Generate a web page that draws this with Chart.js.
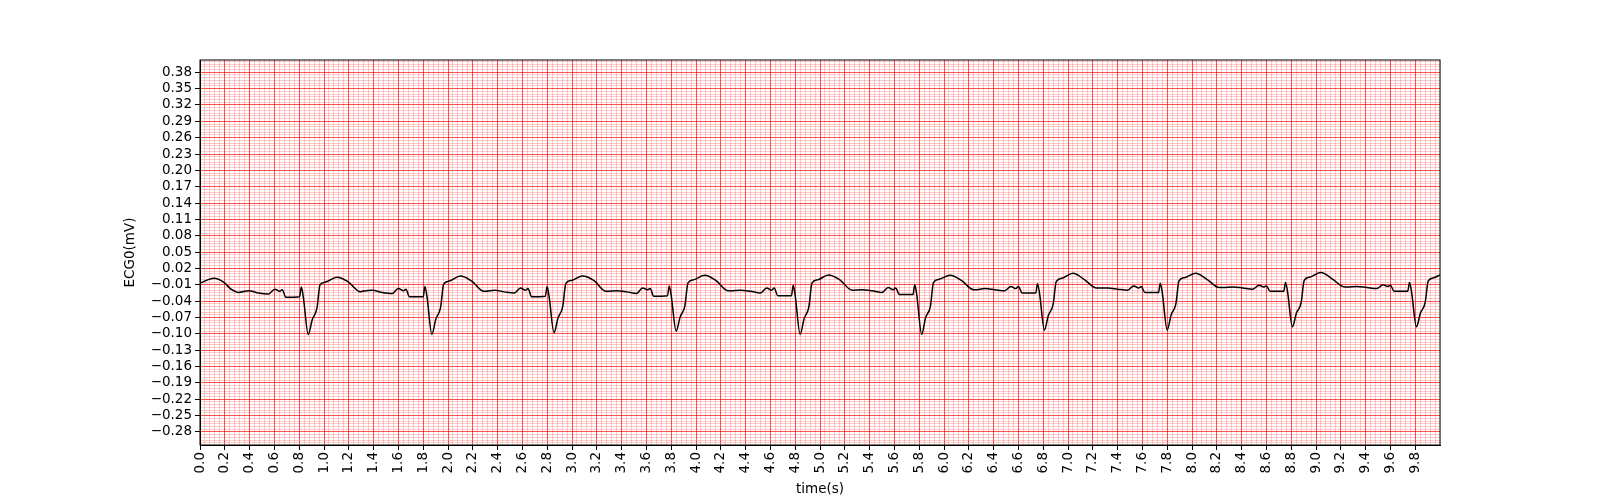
<!DOCTYPE html>
<html>
<head>
<meta charset="utf-8">
<script src="https://cdn.jsdelivr.net/npm/chart.js@4/dist/chart.umd.min.js"></script>
<style>
  body { margin: 0; background: #fff; }
  #wrap { width: 1600px; height: 500px; }
</style>
</head>
<body>
<div id="wrap"><canvas id="ecgChart"></canvas></div>
<script>
// readings of the trace: start of record, then one row per beat around its R dip
var headTimes = [0.0, 0.113, 0.19, 0.25];
var headValues = [-0.007, 0.002, -0.005, -0.018];

var beatDips = [0.873, 1.87, 2.855, 3.84, 4.84, 5.82, 6.81, 7.80, 8.81, 9.81];
var beatOffsets = [-0.56, -0.48, -0.40, -0.32, -0.27, -0.23, -0.21, -0.18, -0.07, -0.056, -0.04, 0, 0.032, 0.07, 0.095, 0.14, 0.23, 0.32, 0.42];
var beatValues = [
  [-0.024,-0.021,-0.025,-0.027,-0.018,-0.022,-0.019,-0.033,-0.032,-0.014,-0.032,-0.101,-0.074,-0.053,-0.010,-0.005,0.004,-0.004,-0.023],
  [-0.022,-0.020,-0.024,-0.026,-0.017,-0.021,-0.018,-0.032,-0.032,-0.013,-0.031,-0.101,-0.073,-0.052,-0.009,-0.003,0.006,-0.003,-0.022],
  [-0.022,-0.020,-0.023,-0.025,-0.016,-0.020,-0.017,-0.032,-0.031,-0.013,-0.031,-0.098,-0.071,-0.050,-0.008,-0.002,0.006,-0.002,-0.022],
  [-0.022,-0.021,-0.023,-0.026,-0.016,-0.019,-0.017,-0.031,-0.030,-0.012,-0.030,-0.095,-0.069,-0.049,-0.007,-0.001,0.0075,-0.002,-0.021],
  [-0.021,-0.020,-0.022,-0.025,-0.016,-0.020,-0.016,-0.030,-0.030,-0.011,-0.030,-0.101,-0.072,-0.051,-0.007,-0.001,0.008,-0.001,-0.020],
  [-0.020,-0.019,-0.021,-0.024,-0.015,-0.019,-0.016,-0.028,-0.028,-0.010,-0.028,-0.101,-0.070,-0.050,-0.006,0.000,0.0075,-0.002,-0.019],
  [-0.019,-0.017,-0.019,-0.021,-0.013,-0.017,-0.013,-0.025,-0.025,-0.008,-0.025,-0.093,-0.066,-0.046,-0.004,0.002,0.011,0.000,-0.016],
  [-0.016,-0.016,-0.018,-0.020,-0.012,-0.016,-0.013,-0.024,-0.024,-0.007,-0.024,-0.093,-0.065,-0.045,-0.003,0.003,0.011,0.000,-0.015],
  [-0.015,-0.014,-0.016,-0.018,-0.011,-0.014,-0.012,-0.022,-0.022,-0.006,-0.022,-0.087,-0.062,-0.043,-0.002,0.004,0.0125,0.001,-0.014],
  [-0.014,-0.013,-0.015,-0.017,-0.010,-0.013,-0.011,-0.022,-0.022,-0.006,-0.022,-0.087,-0.062,-0.043,-0.003,0.003]
];
var tailTimes = [10.0];
var tailValues = [0.008];

var xTicks = [0.0,0.2,0.4,0.6,0.8,1.0,1.2,1.4,1.6,1.8,2.0,2.2,2.4,2.6,2.8,3.0,3.2,3.4,3.6,3.8,4.0,4.2,4.4,4.6,4.8,5.0,5.2,5.4,5.6,5.8,6.0,6.2,6.4,6.6,6.8,7.0,7.2,7.4,7.6,7.8,8.0,8.2,8.4,8.6,8.8,9.0,9.2,9.4,9.6,9.8];
var yTicks = [-0.28,-0.25,-0.22,-0.19,-0.16,-0.13,-0.10,-0.07,-0.04,-0.01,0.02,0.05,0.08,0.11,0.14,0.17,0.20,0.23,0.26,0.29,0.32,0.35,0.38];

var points = [];
headTimes.forEach(function (t, i) { points.push({ x: t, y: headValues[i] }); });
beatDips.forEach(function (d, b) {
  beatValues[b].forEach(function (v, i) { points.push({ x: d + beatOffsets[i], y: v }); });
});
tailTimes.forEach(function (t, i) { points.push({ x: t, y: tailValues[i] }); });

function steps(min, max, step) {
  var out = [];
  for (var k = Math.ceil(min / step - 1e-6); k * step <= max + 1e-9; k++) out.push({ value: +(k * step).toFixed(4) });
  return out;
}

var frame = {
  id: 'frame',
  afterDraw: function (c) {
    var a = c.chartArea, ctx = c.ctx;
    ctx.save();
    ctx.strokeStyle = '#000';
    ctx.lineWidth = 1;
    ctx.strokeRect(a.left, a.top, a.right - a.left, a.bottom - a.top);
    ctx.restore();
  }
};

Chart.defaults.font.family = 'DejaVu Sans';
Chart.defaults.font.size = 13.5;
Chart.defaults.color = '#000';

new Chart(document.getElementById('ecgChart'), {
  type: 'line',
  data: {
    datasets: [{
      data: points,
      borderColor: '#000',
      borderWidth: 1.5,
      pointRadius: 0,
      cubicInterpolationMode: 'monotone'
    }]
  },
  plugins: [frame],
  options: {
    responsive: true,
    maintainAspectRatio: false,
    animation: false,
    layout: { padding: { left: 122, right: 160, top: 60, bottom: 0 } },
    plugins: { legend: { display: false }, tooltip: { enabled: false } },
    scales: {
      x2: {
        type: 'linear', position: 'bottom', min: 0, max: 10,
        afterBuildTicks: function (s) { s.ticks = steps(0, 10, 0.04); },
        afterFit: function (s) { s.height = 0; },
        ticks: { display: false },
        grid: { color: 'rgba(255,0,0,0.2)', lineWidth: 1, drawTicks: false },
        border: { display: false }
      },
      y2: {
        type: 'linear', position: 'left', min: -0.304, max: 0.4025,
        afterBuildTicks: function (s) { s.ticks = steps(-0.304, 0.4025, 0.005); },
        afterFit: function (s) { s.width = 0; },
        ticks: { display: false },
        grid: { color: 'rgba(255,0,0,0.2)', lineWidth: 1, drawTicks: false },
        border: { display: false }
      },
      x: {
        type: 'linear', min: 0, max: 10,
        afterBuildTicks: function (s) { s.ticks = xTicks.map(function (v) { return { value: v }; }); },
        afterFit: function (s) { s.height = 55; },
        ticks: { maxRotation: 90, minRotation: 90, autoSkip: false, padding: 2,
                 callback: function (v) { return v.toFixed(1); } },
        grid: { color: 'rgba(255,0,0,0.6)', lineWidth: 1, tickColor: '#000', tickLength: 5 },
        border: { color: '#000' },
        title: { display: true, text: 'time(s)', padding: { top: 0, bottom: 2 } }
      },
      y: {
        type: 'linear', min: -0.304, max: 0.4025,
        afterBuildTicks: function (s) { s.ticks = yTicks.map(function (v) { return { value: v }; }); },
        afterFit: function (s) { s.width = 78; },
        ticks: { autoSkip: false, padding: 3,
                 callback: function (v) { return v.toFixed(2).replace('-', '\u2212'); } },
        grid: { color: 'rgba(255,0,0,0.6)', lineWidth: 1, tickColor: '#000', tickLength: 5 },
        border: { color: '#000' },
        title: { display: true, text: 'ECG0(mV)', padding: 0 }
      }
    }
  }
});
</script>
</body>
</html>
